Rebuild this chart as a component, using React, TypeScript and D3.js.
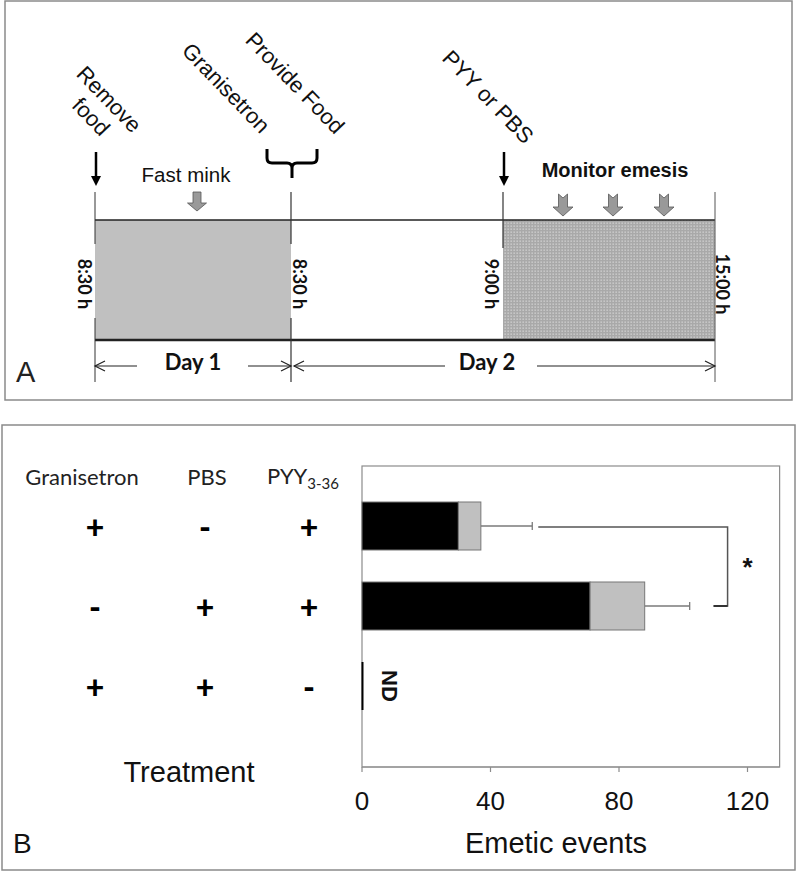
import React from "react";
import * as d3 from "d3";

// ---------- Panel A data ----------
const timeLabels = ["8:30 h", "8:30 h", "9:00 h", "15:00 h"];
const dayLabels = ["Day 1", "Day 2"];
const eventLabels = [
  { text: ["Remove", "food"], at: 0 },
  { text: ["Granisetron"], at: 1 },
  { text: ["Provide Food"], at: 1 },
  { text: ["PYY or PBS"], at: 2 },
];
const fastLabel = "Fast mink";
const monitorLabel = "Monitor emesis";

// ---------- Panel B data ----------
const treatmentHeaders = ["Granisetron", "PBS", "PYY"];
const granisetron = ["+", "-", "+"];
const pbs = ["-", "+", "+"];
const pyy = ["+", "+", "-"];
const groups = ["G+PYY", "PBS+PYY", "G+PBS"];
const blackValues = [30, 71, 0];
const grayValues = [7, 17, 0];
const errorValues = [53, 102, 0];
const xTicks = [0, 40, 80, 120];

const W = 800;
const H = 872;

function blockArrow(cx: number, top: number, bottom: number, shaftW: number, headW: number, headH: number) {
  const p = d3.path();
  const sh = shaftW / 2;
  const hh = headW / 2;
  const hy = bottom - headH;
  p.moveTo(cx - sh, top);
  p.lineTo(cx + sh, top);
  p.lineTo(cx + sh, hy);
  p.lineTo(cx + hh, hy);
  p.lineTo(cx, bottom);
  p.lineTo(cx - hh, hy);
  p.lineTo(cx - sh, hy);
  p.closePath();
  return p.toString();
}

function notchArrow(cx: number, top: number, bottom: number, shaftW: number, headW: number, headH: number) {
  const p = d3.path();
  const sh = shaftW / 2;
  const hh = headW / 2;
  const hy = bottom - headH;
  p.moveTo(cx - sh, top);
  p.lineTo(cx, top + 4);
  p.lineTo(cx + sh, top);
  p.lineTo(cx + sh, hy);
  p.lineTo(cx + hh, hy);
  p.lineTo(cx, bottom);
  p.lineTo(cx - hh, hy);
  p.lineTo(cx - sh, hy);
  p.closePath();
  return p.toString();
}

function PanelA() {
  const t = d3.scaleLinear().domain([0, 1, 2, 3]).range([95, 291, 503, 715]);
  const topY = 220;
  const botY = 340;
  const dayY = 366;
  const labelY = 284;
  const lineTop = 192;
  const lineBot = 382;
  const bold = "Lato, 'Open Sans', sans-serif";
  const arial = "'Liberation Sans', Arial, sans-serif";

  const eventPos = [
    { dx: 5, cy: 108 },
    { dx: -65, cy: 88 },
    { dx: 4, cy: 83 },
    { dx: -15, cy: 97 },
  ];
  const labelDx = [-10, 9, -11, 8];

  // bracket
  const bx = t(1) + 1;
  const bracket = d3.path();
  bracket.moveTo(bx - 25, 149);
  bracket.lineTo(bx - 25, 158);
  bracket.quadraticCurveTo(bx - 25, 163, bx - 20, 163);
  bracket.lineTo(bx - 5, 163);
  bracket.quadraticCurveTo(bx, 163, bx, 168);
  bracket.lineTo(bx, 178);
  bracket.moveTo(bx + 25, 149);
  bracket.lineTo(bx + 25, 158);
  bracket.quadraticCurveTo(bx + 25, 163, bx + 20, 163);
  bracket.lineTo(bx + 5, 163);
  bracket.quadraticCurveTo(bx, 163, bx, 168);

  const arrowHead = (x: number, y: number, dir: number) =>
    `M${x + dir * 10},${y - 5}L${x},${y}L${x + dir * 10},${y + 5}`;

  const d1 = (t(0) + t(1)) / 2;
  const d2 = 487;
  const monitorX = [563, 613, 664];

  return (
    <g>
      <defs>
        <pattern id="dots" width="3" height="3" patternUnits="userSpaceOnUse">
          <rect width="3" height="3" fill="#a9a9a9" />
          <rect x="0.5" y="0.5" width="1.3" height="1.3" fill="#d6d6d6" />
        </pattern>
      </defs>
      <rect x={5} y={1} width={787} height={399} fill="none" stroke="#8a8a8a" strokeWidth={1.5} />

      {/* shaded periods */}
      <rect x={t(0)} y={topY} width={t(1) - t(0)} height={botY - topY} fill="#c0c0c0" />
      <rect x={t(2)} y={topY} width={t(3) - t(2)} height={botY - topY} fill="url(#dots)" />

      {/* horizontal lines */}
      <line x1={t(0)} x2={t(3)} y1={topY} y2={topY} stroke="#222" strokeWidth={1.5} />
      <line x1={t(0)} x2={t(3)} y1={botY} y2={botY} stroke="#222" strokeWidth={2.5} />

      {/* vertical lines */}
      <line x1={t(0)} x2={t(0)} y1={lineTop} y2={244} stroke="#333" strokeWidth={1} />
      <line x1={t(0)} x2={t(0)} y1={318} y2={lineBot} stroke="#333" strokeWidth={1} />
      <line x1={t(1)} x2={t(1)} y1={lineTop} y2={244} stroke="#333" strokeWidth={1.2} />
      <line x1={t(1)} x2={t(1)} y1={318} y2={lineBot} stroke="#333" strokeWidth={1.2} />
      <line x1={t(2)} x2={t(2)} y1={lineTop} y2={248} stroke="#333" strokeWidth={1.2} />
      <line x1={t(3)} x2={t(3)} y1={lineTop} y2={lineBot} stroke="#555" strokeWidth={1} />

      {/* time labels */}
      {timeLabels.map((s, i) => (
        <text
          key={i}
          transform={`translate(${t(i) + labelDx[i]},${labelY}) rotate(90)`}
          textAnchor="middle"
          dominantBaseline="central"
          fontFamily={bold}
          fontWeight={700}
          fontSize={18}
          fill="#111"
        >
          {s}
        </text>
      ))}

      {/* day arrows */}
      <g stroke="#222" strokeWidth={1.2} fill="none">
        <line x1={t(0)} x2={137} y1={dayY} y2={dayY} />
        <path d={arrowHead(t(0), dayY, 1)} />
        <line x1={248} x2={t(1)} y1={dayY} y2={dayY} />
        <path d={arrowHead(t(1), dayY, -1)} />
        <line x1={t(1) + 3} x2={445} y1={dayY} y2={dayY} />
        <path d={arrowHead(t(1) + 3, dayY, 1)} />
        <line x1={537} x2={t(3)} y1={dayY} y2={dayY} />
        <path d={arrowHead(t(3), dayY, -1)} />
      </g>
      <text x={d1} y={370} textAnchor="middle" fontFamily={bold} fontWeight={700} fontSize={22} fill="#111">
        {dayLabels[0]}
      </text>
      <text x={d2} y={370} textAnchor="middle" fontFamily={bold} fontWeight={700} fontSize={22} fill="#111">
        {dayLabels[1]}
      </text>

      <text x={16} y={382} fontFamily={arial} fontSize={29} fill="#222">
        A
      </text>

      {/* black arrows */}
      {[0, 2].map((i) => (
        <g key={i}>
          <line x1={t(i) + 1} x2={t(i) + 1} y1={152} y2={178} stroke="#000" strokeWidth={2.5} />
          <path d={`M${t(i) - 4},${176}L${t(i) + 6},${176}L${t(i) + 1},${186}Z`} fill="#000" />
        </g>
      ))}

      {/* bracket */}
      <path d={bracket.toString()} fill="none" stroke="#000" strokeWidth={3} />

      {/* event labels */}
      {eventLabels.map((e, i) => {
        const n = e.text.length;
        return (
          <text
            key={i}
            transform={`translate(${t(e.at) + eventPos[i].dx},${eventPos[i].cy}) rotate(46)`}
            textAnchor="middle"
            fontFamily={arial}
            fontSize={22}
            fill="#111"
          >
            {e.text.map((s, j) => (
              <tspan key={j} x={0} y={(j - (n - 1) / 2) * 25} dominantBaseline="central">
                {s}
              </tspan>
            ))}
          </text>
        );
      })}

      {/* fast mink */}
      <text x={186} y={182} textAnchor="middle" fontFamily={arial} fontSize={20.5} fill="#111">
        {fastLabel}
      </text>
      <path d={blockArrow(197, 192, 211, 8, 19, 8)} fill="#9a9a9a" stroke="#555" strokeWidth={0.8} />

      {/* monitor emesis */}
      <text x={615} y={177} textAnchor="middle" fontFamily={arial} fontWeight={700} fontSize={20} fill="#111">
        {monitorLabel}
      </text>
      {monitorX.map((x, i) => (
        <path key={i} d={notchArrow(x, 194, 216, 9, 20, 9)} fill="#999" stroke="#555" strokeWidth={0.8} />
      ))}
    </g>
  );
}

function PanelB() {
  const left = 362;
  const top = 466;
  const bottom = 767;
  const x = d3.scaleLinear().domain([0, 130]).range([left, left + 130 * 3.2125]);
  const y = d3.scaleBand<string>().domain(groups).range([486, 726]).paddingInner(0.4).paddingOuter(0.2);
  const bw = y.bandwidth();
  const calibri = "Lato, 'Open Sans', sans-serif";
  const arial = "'Liberation Sans', Arial, sans-serif";
  const colX = [95, 205, 309];
  const signCols = [granisetron, pbs, pyy];

  const bracketX = x(113.8);
  const y0 = (y(groups[0]) as number) + bw / 2 + 1;
  const y1 = (y(groups[1]) as number) + bw / 2;

  return (
    <g>
      <rect x={2} y={425} width={793} height={445} fill="none" stroke="#8a8a8a" strokeWidth={1.5} />

      {/* headers */}
      <text x={82} y={485} textAnchor="middle" fontFamily={calibri} fontSize={22} fill="#222">
        {treatmentHeaders[0]}
      </text>
      <text x={207} y={485} textAnchor="middle" fontFamily={calibri} fontSize={22} fill="#222">
        {treatmentHeaders[1]}
      </text>
      <text x={267} y={484} fontFamily={calibri} fontSize={22} fill="#222">
        {treatmentHeaders[2]}
        <tspan fontSize={15} dy={5}>
          3-36
        </tspan>
      </text>

      {/* signs */}
      {signCols.map((col, c) =>
        col.map((s, r) => (
          <text
            key={`${c}-${r}`}
            x={colX[c]}
            y={(y(groups[r]) as number) + bw / 2}
            textAnchor="middle"
            dominantBaseline="central"
            fontFamily={calibri}
            fontWeight={900}
            fontSize={32}
            fill="#000"
          >
            {s}
          </text>
        ))
      )}

      <text x={189} y={782} textAnchor="middle" fontFamily={arial} fontSize={29} fill="#111">
        Treatment
      </text>
      <text x={13} y={853} fontFamily={arial} fontSize={28} fill="#111">
        B
      </text>

      {/* plot box */}
      <rect x={left} y={top} width={x(130) - left} height={bottom - top} fill="none" stroke="#8c8c8c" strokeWidth={1.2} />

      {/* bars */}
      {groups.map((g, i) => {
        const by = y(g) as number;
        if (blackValues[i] + grayValues[i] === 0) {
          return (
            <g key={g}>
              <line x1={left + 0.5} x2={left + 0.5} y1={by} y2={by + bw} stroke="#000" strokeWidth={2} />
              <text
                transform={`translate(${left + 27},${by + bw / 2}) rotate(90)`}
                textAnchor="middle"
                dominantBaseline="central"
                fontFamily={arial}
                fontWeight={700}
                fontSize={22}
                fill="#111"
              >
                ND
              </text>
            </g>
          );
        }
        const total = blackValues[i] + grayValues[i];
        return (
          <g key={g}>
            <line x1={x(total)} x2={x(errorValues[i])} y1={by + bw / 2} y2={by + bw / 2} stroke="#7a7a7a" strokeWidth={1.3} />
            <line x1={x(errorValues[i])} x2={x(errorValues[i])} y1={by + bw / 2 - 4} y2={by + bw / 2 + 4} stroke="#7a7a7a" strokeWidth={1.3} />
            <rect x={x(0)} y={by} width={x(blackValues[i]) - x(0)} height={bw} fill="#000" stroke="#777" strokeWidth={1} />
            <rect x={x(blackValues[i])} y={by} width={x(total) - x(blackValues[i])} height={bw} fill="#c0c0c0" stroke="#777" strokeWidth={1} />
          </g>
        );
      })}

      {/* significance bracket */}
      <path
        d={`M${x(errorValues[0]) + 6},${y0}L${bracketX},${y0}L${bracketX},${y1}L${bracketX - 14},${y1}`}
        fill="none"
        stroke="#555"
        strokeWidth={1.5}
      />
      <line x1={bracketX - 14} x2={bracketX} y1={y1} y2={y1} stroke="#333" strokeWidth={2} />
      <text x={bracketX + 20} y={(y0 + y1) / 2} textAnchor="middle" dominantBaseline="central" fontFamily={arial} fontWeight={700} fontSize={26} fill="#111">
        *
      </text>

      {/* x axis */}
      <line x1={left} x2={x(130)} y1={bottom} y2={bottom} stroke="#8c8c8c" strokeWidth={1.2} />
      {xTicks.map((v) => (
        <g key={v}>
          <line x1={x(v)} x2={x(v)} y1={bottom} y2={bottom + 5} stroke="#8c8c8c" strokeWidth={1.2} />
          <text x={x(v)} y={810} textAnchor="middle" fontFamily={arial} fontSize={26} fill="#111">
            {v}
          </text>
        </g>
      ))}
      <text x={556} y={853} textAnchor="middle" fontFamily={arial} fontSize={29} fill="#111">
        Emetic events
      </text>
    </g>
  );
}

export default function App() {
  return (
    <svg
      width={W}
      height={H}
      viewBox={`0 0 ${W} ${H}`}
      style={{ position: "absolute", left: 0, top: 0, background: "#fff" }}
    >
      <rect width={W} height={H} fill="#fff" />
      <PanelA />
      <PanelB />
    </svg>
  );
}
